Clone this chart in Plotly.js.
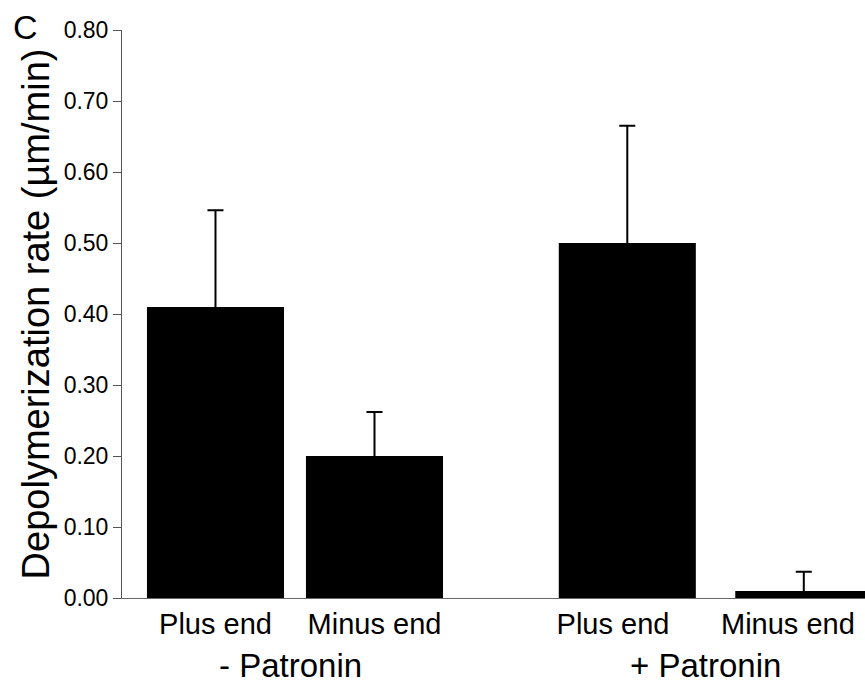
<!DOCTYPE html>
<html>
<head>
<meta charset="utf-8">
<script src="https://cdn.plot.ly/plotly-3.0.1.min.js"></script>
<style>html,body{margin:0;padding:0;background:#fff}#chart{width:865px;height:687px}</style>
</head>
<body>
<div id="chart"></div>
<script>
// Data
const barPositions = [0, 1, 2.59, 3.70];
const barValues = [0.41, 0.20, 0.50, 0.01];
const errorPlus = [0.136, 0.062, 0.165, 0.027];
const tickPositions = [0, 1, 2.5, 3.6];
const tickLabels = ["Plus end", "Minus end", "Plus end", "Minus end"];
const groupLabels = ["- Patronin", "+ Patronin"];
const groupPositions = [0.47, 3.08];

const FONT = "Liberation Sans, Arial, sans-serif";

const trace = {
  type: "bar",
  x: barPositions,
  y: barValues,
  width: 0.862,
  marker: {color: "#000000", line: {width: 0}},
  error_y: {
    type: "data",
    symmetric: false,
    array: errorPlus,
    arrayminus: barValues.map(() => 0.004), // hides lower cap inside the bar
    color: "#000000",
    thickness: 2,
    width: 8
  },
  hoverinfo: "skip"
};

const annotations = groupLabels.map((t, i) => ({
  text: t, x: groupPositions[i], xref: "x", y: -0.118, yref: "paper",
  xanchor: "center", yanchor: "middle", showarrow: false,
  font: {family: FONT, size: 33, color: "#000"}
}));
annotations.push({
  text: "C", x: -0.1305, xref: "paper", y: 1.005, yref: "paper",
  xanchor: "center", yanchor: "middle", showarrow: false,
  font: {family: FONT, size: 34, color: "#000"}
});

const layout = {
  width: 865, height: 687,
  margin: {l: 122, r: 0, t: 30, b: 89},
  paper_bgcolor: "#fff", plot_bgcolor: "#fff",
  showlegend: false,
  font: {family: FONT, color: "#000"},
  xaxis: {
    range: [-0.588, 4.085],
    tickvals: tickPositions, ticktext: tickLabels,
    tickfont: {family: FONT, size: 29, color: "#000"},
    showgrid: false, zeroline: false,
    showline: true, linecolor: "#666", linewidth: 1,
    ticks: "", fixedrange: true
  },
  yaxis: {
    range: [0, 0.8], dtick: 0.1, tick0: 0, tickformat: ".2f",
    tickfont: {family: FONT, size: 23, color: "#000"},
    showgrid: false, zeroline: false,
    showline: true, linecolor: "#555", linewidth: 1,
    ticks: "outside", ticklen: 8, tickcolor: "#555", tickwidth: 1,
    title: {text: "Depolymerization rate (µm/min)", font: {family: FONT, size: 38, color: "#000"}, standoff: 2},
    automargin: false, fixedrange: true
  },
  annotations: annotations
};

Plotly.newPlot("chart", [trace], layout, {displayModeBar: false, staticPlot: true});
</script>
</body>
</html>
